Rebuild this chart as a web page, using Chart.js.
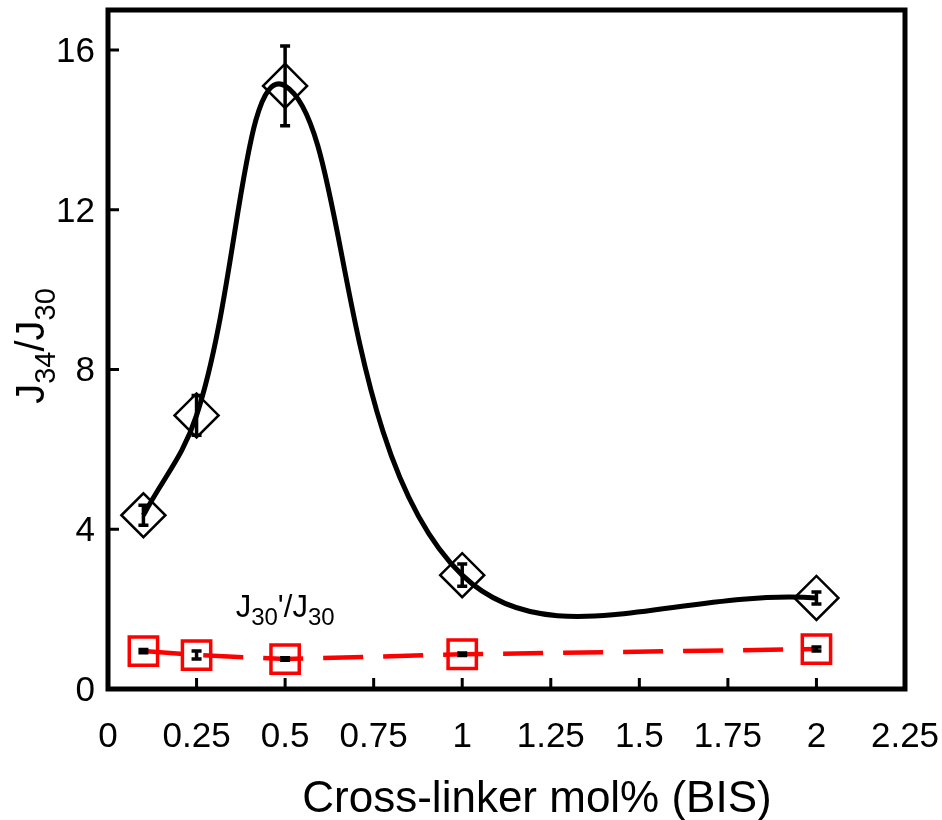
<!DOCTYPE html>
<html>
<head>
<meta charset="utf-8">
<script src="https://cdn.jsdelivr.net/npm/chart.js@4.4.0/dist/chart.umd.min.js"></script>
<style>
    html, body { margin: 0; padding: 0; background: #fff; }
    #wrap { width: 942px; height: 820px; }
</style>
</head>
<body>
<div id="wrap"><canvas id="chart"></canvas></div>
<script>
// ---------- data ----------
const crossLinker = [0.1, 0.25, 0.5, 1, 2];
const ratioJ34 = [4.35, 6.85, 15.1, 2.85, 2.28];
const errJ34 = [0.25, 0.5, 1.0, 0.28, 0.15];
const ratioJ30p = [0.95, 0.85, 0.75, 0.87, 1.0];
const errJ30p = [0.04, 0.1, 0.03, 0.03, 0.05];
const xTicks = [0, 0.25, 0.5, 0.75, 1, 1.25, 1.5, 1.75, 2, 2.25];
const yTicks = [0, 4, 8, 12, 16];

const FONT = "'Liberation Sans', Arial, sans-serif";

const toPoints = (ys) => crossLinker.map((x, i) => ({ x: x, y: ys[i] }));

// text with subscripts, parts = [{t, sub}]
function drawSubText(ctx, parts, x, y, size, subSize, drop) {
    let total = 0;
    parts.forEach(p => {
        ctx.font = `${p.sub ? subSize : size}px ${FONT}`;
        p.w = ctx.measureText(p.t).width;
        total += p.w;
    });
    let cx = x - total / 2;
    ctx.textBaseline = 'alphabetic';
    ctx.textAlign = 'left';
    parts.forEach(p => {
        ctx.font = `${p.sub ? subSize : size}px ${FONT}`;
        ctx.fillText(p.t, cx, p.sub ? y + drop : y);
        cx += p.w;
    });
}

// ---------- plugins ----------
const framePlugin = {
    id: 'frame',
    afterDraw(chart) {
        const { ctx, chartArea: a, scales } = chart;
        ctx.save();
        ctx.strokeStyle = '#000';
        ctx.fillStyle = '#000';

        // inward ticks
        ctx.lineWidth = 3;
        ctx.beginPath();
        xTicks.forEach(v => {
            const px = scales.x.getPixelForValue(v);
            ctx.moveTo(px, a.bottom);
            ctx.lineTo(px, a.bottom - 11);
        });
        yTicks.forEach(v => {
            const py = scales.y.getPixelForValue(v);
            ctx.moveTo(a.left, py);
            ctx.lineTo(a.left + 11, py);
        });
        ctx.stroke();

        // box
        ctx.lineWidth = 5;
        ctx.strokeRect(a.left, a.top, a.right - a.left, a.bottom - a.top);

        // tick labels
        ctx.font = `35px ${FONT}`;
        ctx.textBaseline = 'alphabetic';
        ctx.textAlign = 'center';
        xTicks.forEach(v => {
            ctx.fillText(String(v), scales.x.getPixelForValue(v), a.bottom + 58);
        });
        ctx.textAlign = 'right';
        yTicks.forEach(v => {
            ctx.fillText(String(v), a.left - 13, scales.y.getPixelForValue(v) + 12);
        });

        // axis titles
        ctx.font = `44px ${FONT}`;
        ctx.textAlign = 'center';
        ctx.fillText('Cross-linker mol% (BIS)', 537, 812);

        ctx.save();
        ctx.translate(44, 346);
        ctx.rotate(-Math.PI / 2);
        drawSubText(ctx, [
            { t: 'J' }, { t: '34', sub: true }, { t: '/J' }, { t: '30', sub: true }
        ], 0, 0, 40, 29, 11);
        ctx.restore();

        // series label
        drawSubText(ctx, [
            { t: 'J' }, { t: '30', sub: true }, { t: "'/J" }, { t: '30', sub: true }
        ], scales.x.getPixelForValue(0.5), scales.y.getPixelForValue(1.8), 31, 24, 8);
        ctx.restore();
    }
};

const errorBarPlugin = {
    id: 'errorBars',
    afterDatasetsDraw(chart) {
        const { ctx, scales } = chart;
        const sets = [[ratioJ34, errJ34], [ratioJ30p, errJ30p]];
        ctx.save();
        ctx.strokeStyle = '#000';
        ctx.lineWidth = 3.5;
        sets.forEach(([vals, errs]) => {
            crossLinker.forEach((x, i) => {
                const px = scales.x.getPixelForValue(x);
                const top = scales.y.getPixelForValue(vals[i] + errs[i]);
                const bot = scales.y.getPixelForValue(vals[i] - errs[i]);
                ctx.beginPath();
                ctx.moveTo(px, top);
                ctx.lineTo(px, bot);
                ctx.moveTo(px - 5, top);
                ctx.lineTo(px + 5, top);
                ctx.moveTo(px - 5, bot);
                ctx.lineTo(px + 5, bot);
                ctx.stroke();
            });
        });
        ctx.restore();
    }
};

// ---------- chart ----------
new Chart(document.getElementById('chart'), {
    type: 'line',
    data: {
        datasets: [
            {
                label: 'J34/J30',
                data: toPoints(ratioJ34),
                borderColor: '#000',
                borderWidth: 5,
                tension: 0.4,
                pointStyle: 'rectRot',
                pointRadius: 22,
                pointBorderWidth: 2.5,
                pointBorderColor: '#000',
                pointBackgroundColor: 'rgba(0,0,0,0)'
            },
            {
                label: "J30'/J30",
                data: toPoints(ratioJ30p),
                borderColor: '#ff0000',
                borderWidth: 4.5,
                borderDash: [40, 20],
                tension: 0,
                pointStyle: 'rect',
                pointRadius: 20,
                pointBorderWidth: 3.5,
                pointBorderColor: '#ff0000',
                pointBackgroundColor: 'rgba(0,0,0,0)'
            }
        ]
    },
    options: {
        responsive: true,
        maintainAspectRatio: false,
        animation: false,
        layout: { autoPadding: false, padding: { top: 10, right: 37, left: 0, bottom: 0 } },
        plugins: {
            legend: { display: false },
            tooltip: { enabled: false }
        },
        scales: {
            x: {
                type: 'linear',
                min: 0,
                max: 2.25,
                grid: { display: false },
                border: { display: false },
                ticks: { display: false },
                afterFit: s => { s.height = 131; },
                afterBuildTicks: s => { s.ticks = xTicks.map(v => ({ value: v })); }
            },
            y: {
                min: 0,
                max: 17,
                grid: { display: false },
                border: { display: false },
                ticks: { display: false },
                afterFit: s => { s.width = 108; },
                afterBuildTicks: s => { s.ticks = yTicks.map(v => ({ value: v })); }
            }
        }
    },
    plugins: [framePlugin, errorBarPlugin]
});
</script>
</body>
</html>
